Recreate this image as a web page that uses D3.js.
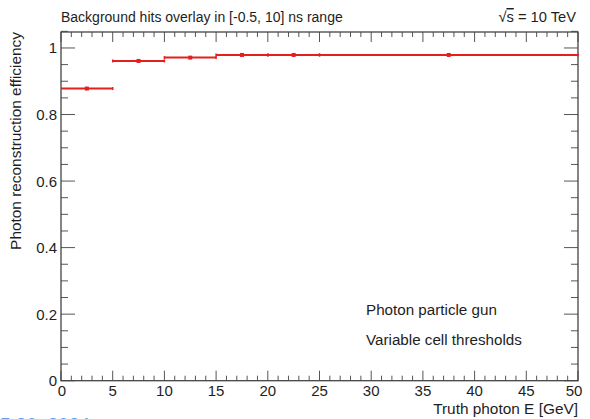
<!DOCTYPE html>
<html><head><meta charset="utf-8">
<script src="https://cdn.jsdelivr.net/npm/d3@7"></script>
<style>body{margin:0;background:#fff;}svg{display:block;font-family:"Liberation Sans",Arial,sans-serif;}</style>
</head><body>
<script>
const binLo = [0, 5, 10, 15, 20, 25];
const binHi = [5, 10, 15, 20, 25, 50];
const efficiency = [0.878, 0.961, 0.971, 0.979, 0.979, 0.979];
const effError = [0.004, 0.003, 0.002, 0.002, 0.002, 0.001];
const xTicks = [0, 5, 10, 15, 20, 25, 30, 35, 40, 45, 50];
const yTicks = [0, 0.2, 0.4, 0.6, 0.8, 1];
const yTickLabels = ["0", "0.2", "0.4", "0.6", "0.8", "1"];

const W = 590, H = 419;
const L = 61, R = 578, T = 32, B = 380.7;
const svg = d3.select("body").append("svg").attr("width", W).attr("height", H);
const x = d3.scaleLinear().domain([0, 50]).range([L, R]);
const y = d3.scaleLinear().domain([0, 1.048]).range([B, T]);
const axisCol = "#444", tickCol = "#555", red = "#e3201b", txt = "#1e1e1e";

// Ticks
const xMinor = d3.range(0, 51, 1);
const yMinor = d3.range(0, 1.0501, 0.05);
const g = svg.append("g");
xMinor.forEach(v => {
  const len = (v % 5 === 0) ? 10 : 5;
  g.append("line").attr("x1", x(v)).attr("x2", x(v)).attr("y1", B).attr("y2", B - len).attr("stroke", tickCol).attr("stroke-width", 1);
  g.append("line").attr("x1", x(v)).attr("x2", x(v)).attr("y1", T).attr("y2", T + len).attr("stroke", tickCol).attr("stroke-width", 1);
});
yMinor.forEach(v => {
  const isMaj = Math.abs(v * 5 - Math.round(v * 5)) < 1e-6;
  const len = isMaj ? 14 : 7;
  g.append("line").attr("x1", L).attr("x2", L + len).attr("y1", y(v)).attr("y2", y(v)).attr("stroke", tickCol).attr("stroke-width", 1);
  g.append("line").attr("x1", R).attr("x2", R - len).attr("y1", y(v)).attr("y2", y(v)).attr("stroke", tickCol).attr("stroke-width", 1);
});
svg.append("rect").attr("x", L).attr("y", T).attr("width", R - L).attr("height", B - T)
  .attr("fill", "none").attr("stroke", axisCol).attr("stroke-width", 1.3);

// tick labels
svg.append("g").selectAll("text").data(xTicks).join("text")
  .attr("x", d => x(d) + (d === 50 ? -4 : (d === 0 ? 1 : 0))).attr("y", 396).attr("text-anchor", "middle")
  .attr("font-size", 15).attr("fill", txt).text(d => d);
svg.append("g").selectAll("text").data(yTicks).join("text")
  .attr("x", 57).attr("y", d => y(d) + 5.5).attr("text-anchor", "end")
  .attr("font-size", 15).attr("fill", txt).text((d, i) => yTickLabels[i]);

// data
const data = binLo.map((lo, i) => ({lo, hi: binHi[i], v: efficiency[i], e: effError[i], c: (lo + binHi[i]) / 2}));
const dg = svg.append("g");
data.forEach(d => {
  dg.append("line").attr("x1", x(d.lo)).attr("x2", x(d.hi)).attr("y1", y(d.v)).attr("y2", y(d.v)).attr("stroke", red).attr("stroke-width", 2);
  dg.append("line").attr("x1", x(d.c)).attr("x2", x(d.c)).attr("y1", y(d.v - d.e)).attr("y2", y(d.v + d.e)).attr("stroke", red).attr("stroke-width", 2);
  [d.lo, d.hi].forEach(e => {
    if (e === 0) return;
    dg.append("line").attr("x1", x(e)).attr("x2", x(e)).attr("y1", y(d.v) - 1.5).attr("y2", y(d.v) + 1.5).attr("stroke", red).attr("stroke-width", 1.5);
  });
  dg.append("rect").attr("x", x(d.c) - 2).attr("y", y(d.v) - 2).attr("width", 4).attr("height", 4).attr("fill", red);
});

// texts
svg.append("text").attr("x", 61).attr("y", 22).attr("font-size", 14).attr("fill", txt)
  .text("Background hits overlay in [-0.5, 10] ns range");
const rs = svg.append("text").attr("x", 576).attr("y", 22).attr("font-size", 14.7).attr("fill", txt).attr("text-anchor", "end");
rs.append("tspan").text("\u221A");
rs.append("tspan").attr("text-decoration", "overline").text("s");
rs.append("tspan").text(" = 10 TeV");
svg.append("text").attr("transform", "translate(21,32) rotate(-90)").attr("text-anchor", "end")
  .attr("font-size", 15.4).attr("fill", txt).text("Photon reconstruction efficiency");
svg.append("text").attr("x", 578).attr("y", 414).attr("text-anchor", "end").attr("font-size", 15.4).attr("fill", txt)
  .text("Truth photon E [GeV]");
svg.append("text").attr("x", 366).attr("y", 315).attr("font-size", 15.2).attr("fill", txt).text("Photon particle gun");
svg.append("text").attr("x", 366).attr("y", 345).attr("font-size", 15.2).attr("fill", txt).text("Variable cell thresholds");
svg.append("text").attr("x", 0).attr("y", 431).attr("font-size", 19).attr("fill", "#5aa0e6").text("5.30. 2024");
</script>
</body></html>
